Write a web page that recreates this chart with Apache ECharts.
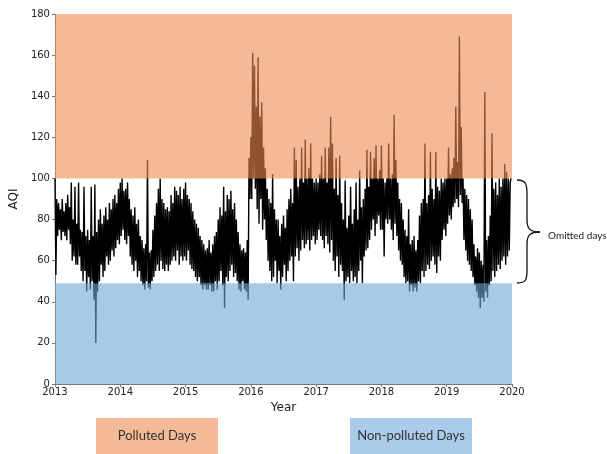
<!DOCTYPE html>
<html>
<head>
<meta charset="utf-8">
<script src="https://cdn.jsdelivr.net/npm/echarts@6/dist/echarts.min.js"></script>
<style>html,body{margin:0;padding:0;background:#fff}#c{width:607px;height:454px}</style>
</head>
<body>
<div id="c"></div>
<script>
// Tick labels
const yearTicks = [2013, 2014, 2015, 2016, 2017, 2018, 2019, 2020];
const aqiTicks = [0, 20, 40, 60, 80, 100, 120, 140, 160, 180];
// Band thresholds
const pollutedBand = [100, 180];
const cleanBand = [0, 49];
const bandLabels = ['Polluted Days', 'Non-polluted Days'];
const braceLabel = 'Omitted days';
// Daily AQI (about 6 readings per month)
const aqi2013 = [100,53,90,72,88,75, 85,70,90,74,84,72, 88,70,92,75,86,68, 98,60,80,62,96,58,
  78,58,98,62,75,55, 74,50,96,55,72,45, 75,52,70,46,96,50, 72,41,97,20,74,45,
  80,50,85,58,78,52, 82,55,86,62,80,58, 88,60,85,65,90,62, 92,66,88,70,95,68];
const aqi2014 = [98,72,100,75,94,70, 95,68,98,72,90,62, 85,58,82,55,86,60, 78,52,80,55,72,50,
  70,48,66,46,68,50, 109,47,64,46,65,50, 75,52,82,55,88,58, 95,55,100,60,90,56,
  88,55,85,58,86,55, 84,58,92,60,88,62, 96,60,94,65,92,58, 96,62,90,60,95,62];
const aqi2015 = [98,60,92,65,90,58, 88,56,84,55,80,52, 78,50,76,52,72,48, 70,46,68,48,65,46,
  66,46,70,48,64,45, 68,45,72,50,74,46, 80,50,86,55,82,48, 96,37,84,52,92,50,
  90,55,94,58,85,52, 88,54,80,50,74,46, 68,45,65,50,66,46, 64,45,70,41,110,90];
const aqi2016 = [120,90,161,100,155,95, 135,85,159,78,130,90, 137,75,115,80,105,70, 95,60,90,55,88,50,
  102,52,85,60,80,49, 80,55,72,46,78,52, 82,58,76,50,85,55, 90,60,95,62,88,50,
  115,62,109,66,96,60, 100,65,115,70,98,66, 119,68,100,70,105,65, 117,70,100,72,98,68];
const aqi2017 = [100,70,98,75,102,72, 111,70,100,66,115,72, 98,68,115,64,130,70, 117,60,95,55,110,62,
  92,52,111,58,88,55, 80,41,99,50,76,52, 82,49,96,55,78,50, 85,52,98,49,80,55,
  104,60,86,49,90,62, 95,65,114,66,96,70, 113,75,100,80,110,72, 116,78,100,82,104,75];
const aqi2018 = [116,75,100,62,98,80, 100,78,117,80,100,75, 102,70,131,78,109,72, 98,65,90,60,88,58,
  80,52,75,49,72,50, 85,45,68,48,70,45, 72,47,65,45,70,50, 82,49,88,55,90,52,
  117,55,88,58,92,56, 113,60,95,62,90,58, 113,54,96,62,94,60, 100,70,98,75,100,72];
const aqi2019 = [100,78,115,82,102,80, 105,86,110,88,135,90, 108,86,169,92,125,88, 100,70,95,65,92,60,
  90,58,85,55,80,52, 68,48,62,45,66,42, 64,37,60,42,58,40, 142,45,70,42,72,48,
  82,50,122,55,95,52, 98,55,92,58,100,56, 96,60,100,62,107,58, 103,62,100,65,98,100];

const years = [aqi2013, aqi2014, aqi2015, aqi2016, aqi2017, aqi2018, aqi2019];
const series = [];
years.forEach((arr, yi) => {
  arr.forEach((v, i) => series.push([yearTicks[yi] + i / arr.length, v]));
});

const chart = echarts.init(document.getElementById('c'), null, {renderer: 'canvas'});
const tickFont = {fontFamily: 'DejaVu Sans', fontSize: 10, color: '#222'};
const braceStyle = {fill: null, stroke: '#111', lineWidth: 1.3};
function bez(x1, y1, cx1, cy1, cx2, cy2, x2, y2) {
  return {type: 'bezierCurve', shape: {x1: x1, y1: y1, cpx1: cx1, cpy1: cy1, cpx2: cx2, cpy2: cy2, x2: x2, y2: y2}, style: braceStyle};
}
function seg(x1, y1, x2, y2) {
  return {type: 'line', shape: {x1: x1, y1: y1, x2: x2, y2: y2}, style: braceStyle};
}
chart.setOption({
  animation: false,
  grid: {left: 52, right: 95, top: 14, bottom: 70},
  xAxis: {
    type: 'value', min: yearTicks[0], max: yearTicks[yearTicks.length - 1], interval: 1,
    name: 'Year', nameLocation: 'middle', nameGap: 17,
    nameTextStyle: {fontFamily: 'DejaVu Sans', fontSize: 12, color: '#222'},
    axisLine: {show: true, lineStyle: {color: '#777', width: 1}},
    axisTick: {show: true, length: 3, lineStyle: {color: '#777'}},
    axisLabel: Object.assign({margin: 3, formatter: v => String(Math.round(v))}, tickFont),
    splitLine: {show: false}
  },
  yAxis: {
    type: 'value', min: aqiTicks[0], max: aqiTicks[aqiTicks.length - 1], interval: 20,
    name: 'AQI', nameLocation: 'middle', nameGap: 30, nameRotate: 90,
    nameTextStyle: {fontFamily: 'DejaVu Sans', fontSize: 12, color: '#222'},
    axisLine: {show: true, lineStyle: {color: '#777', width: 1}},
    axisTick: {show: true, length: 3, lineStyle: {color: '#777'}},
    axisLabel: Object.assign({margin: 5}, tickFont),
    splitLine: {show: false}
  },
  series: [
    {
      type: 'line', data: series, showSymbol: false, symbol: 'none', z: 2,
      lineStyle: {color: '#000', width: 1.4}, silent: true
    },
    {
      type: 'line', data: [], z: 5, silent: true,
      markArea: {
        silent: true, z: 5,
        data: [
          [{coord: [yearTicks[0], pollutedBand[0]], itemStyle: {color: 'rgba(237,138,78,0.6)'}},
           {coord: [yearTicks[yearTicks.length - 1], pollutedBand[1]]}],
          [{coord: [yearTicks[0], cleanBand[0]], itemStyle: {color: 'rgba(112,165,217,0.6)'}},
           {coord: [yearTicks[yearTicks.length - 1], cleanBand[1]]}]
        ]
      }
    }
  ],
  graphic: [
    {type: 'rect', shape: {x: 96, y: 418, width: 122, height: 36}, style: {fill: '#F5BA96'}},
    {type: 'text', x: 157, y: 436, style: {text: bandLabels[0], fontFamily: 'Lato', fontSize: 13, fill: '#333', align: 'center', verticalAlign: 'middle'}},
    {type: 'rect', shape: {x: 350, y: 418, width: 122, height: 36}, style: {fill: '#ABCBEA'}},
    {type: 'text', x: 411, y: 436, style: {text: bandLabels[1], fontFamily: 'Lato', fontSize: 13, fill: '#333', align: 'center', verticalAlign: 'middle'}},
    bez(517, 180, 526, 180, 527, 184, 527, 194),
    seg(527, 194, 527, 220),
    bez(527, 220, 527, 229, 530, 232, 540, 232),
    bez(540, 232, 530, 232, 527, 235, 527, 244),
    seg(527, 244, 527, 270),
    bez(527, 270, 527, 280, 526, 283, 517, 283),
    {type: 'text', x: 548, y: 236, style: {text: braceLabel, fontFamily: 'Lato', fontSize: 10, fill: '#222', verticalAlign: 'middle'}}
  ]
});
</script>
</body>
</html>
